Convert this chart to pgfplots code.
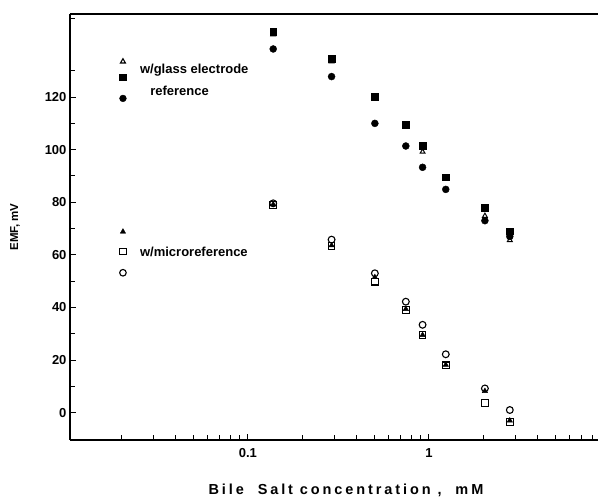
\documentclass[border=0pt]{standalone}
\usepackage{fontspec}
\setmainfont{Liberation Sans}
\newfontfamily\spaced[LetterSpace=20]{Liberation Sans}
\usepackage{pgfplots}
\pgfplotsset{compat=1.18}
\newcommand\lf{\fontsize{13}{15}\selectfont\bfseries}

\begin{document}
\begin{tikzpicture}
\path[use as bounding box] (0,0) rectangle (598pt,503pt);
\begin{axis}[
    at={(70pt,63pt)}, anchor=south west,
    scale only axis, width=528pt, height=426pt,
    xmode=log, xmin=0.0104, xmax=8.6,
    ymin=-10.4, ymax=151.6,
    axis x line*=box, axis y line*=left,
    xtick pos=bottom, ytick pos=left,
    tick align=inside,
    major tick length=6pt, minor tick length=5pt,
    tick style={line width=1pt, black},
    axis line style={line width=1.3pt},
    xtick={0.1,1}, xticklabels={0.1,1},
    minor xtick={0.02,0.03,0.04,0.05,0.06,0.07,0.08,0.09,
                 0.2,0.3,0.4,0.5,0.6,0.7,0.8,0.9,2,3,4,5,6,7,8},
    ytick={0,20,...,120},
    minor ytick={10,30,...,140},
    tick label style={font=\lf},
    xticklabel style={yshift=-5pt},
    /pgf/number format/assume math mode=true,
    xlabel={\spaced\fontsize{14.5}{16}\selectfont\bfseries Bile\ \ Salt concentration\ ,\ \ mM},
    xlabel style={at={(axis description cs:0.5,0)}, anchor=center, yshift=-50pt, xshift=12pt},
    ylabel={\fontsize{11.5}{13}\selectfont\bfseries EMF, mV},
    ylabel style={at={(axis description cs:0,0.5)}, anchor=center, yshift=55pt},
    clip=false,
]
% glass electrode reference (upper group)
\addplot[only marks, mark=*, mark size=3.5pt] coordinates {
  (0.138,138.3) (0.290,127.8) (0.503,110.0) (0.746,101.4)
  (0.923,93.3) (1.24,84.9) (2.04,73.0) (2.80,67.0)
};
\addplot[only marks, mark=square*, mark size=3.4pt] coordinates {
  (0.138,145.0) (0.290,134.5) (0.503,120.2) (0.746,109.5)
  (0.923,101.5) (1.24,89.5) (2.04,78.0) (2.80,69.0)
};
\addplot[only marks, mark=triangle, mark size=2.8pt, mark options={fill=white, line width=1pt}] coordinates {
  (0.138,143.8) (0.290,133.5) (0.503,120.0) (0.746,109.3)
  (0.923,99.2) (1.24,89.3) (2.04,74.8) (2.80,65.6)
};
% microreference (lower group)
\addplot[only marks, mark=square, mark size=3.3pt, mark options={line width=1.1pt}] coordinates {
  (0.138,79.0) (0.290,63.4) (0.503,49.8) (0.746,39.0)
  (0.923,29.5) (1.24,18.0) (2.04,3.6) (2.80,-3.5)
};
\addplot[only marks, mark=o, mark size=3.4pt, mark options={line width=1.1pt}] coordinates {
  (0.138,79.6) (0.290,65.8) (0.503,53.0) (0.746,42.2)
  (0.923,33.4) (1.24,22.2) (2.04,9.2) (2.80,1.0)
};
\addplot[only marks, mark=triangle*, mark size=3.1pt] coordinates {
  (0.138,79.2) (0.290,63.6) (0.503,51.5) (0.746,39.4)
  (0.923,29.5) (1.24,18.2) (2.04,8.2) (2.80,-3.0)
};
% legend keys
\addplot[only marks, mark=triangle, mark size=2.9pt, mark options={line width=1.1pt}] coordinates {(0.0204,133.5)};
\addplot[only marks, mark=square*, mark size=3.3pt] coordinates {(0.0204,127.5)};
\addplot[only marks, mark=*, mark size=3.4pt] coordinates {(0.0204,119.5)};
\addplot[only marks, mark=triangle*, mark size=3.1pt] coordinates {(0.0204,68.8)};
\addplot[only marks, mark=square, mark size=3.2pt, mark options={line width=1.1pt}] coordinates {(0.0204,61.2)};
\addplot[only marks, mark=o, mark size=3.3pt, mark options={line width=1.1pt}] coordinates {(0.0204,53.2)};
\node[anchor=west, inner sep=0pt, font=\lf] at (axis cs:0.0253,130.3) {w/glass electrode};
\node[anchor=west, inner sep=0pt, font=\lf] at (axis cs:0.0288,122.4) {reference};
\node[anchor=west, inner sep=0pt, font=\lf] at (axis cs:0.0253,61.2) {w/microreference};
\end{axis}
\end{tikzpicture}
\end{document}
